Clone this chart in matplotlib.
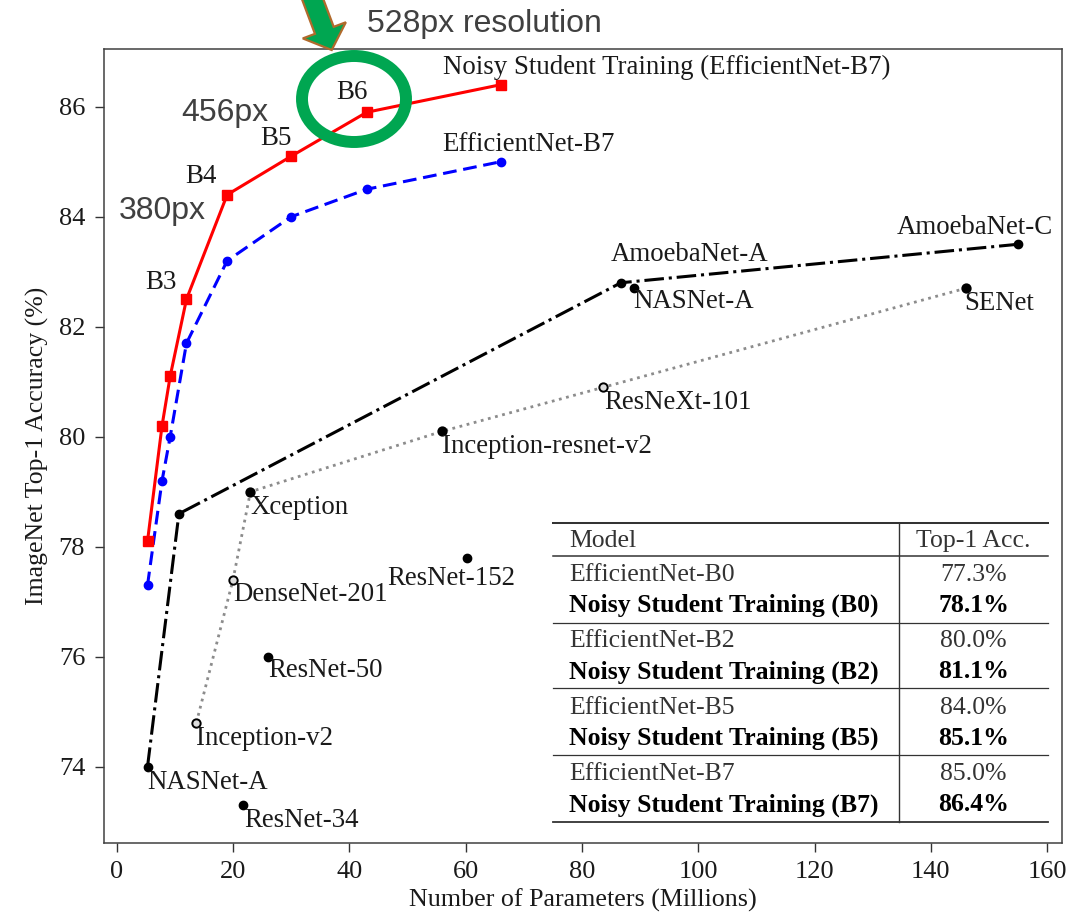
import matplotlib.pyplot as plt
from matplotlib.lines import Line2D
from matplotlib.patches import Ellipse, FancyArrow
from matplotlib.transforms import Affine2D

plt.rcParams['font.family'] = ['Liberation Serif', 'DejaVu Serif']

# EfficientNet B0..B7: parameters (millions) and ImageNet top-1 (%)
effnet_params = [5.3, 7.8, 9.2, 12, 19, 30, 43, 66]
effnet_acc = [77.3, 79.2, 80.0, 81.7, 83.2, 84.0, 84.5, 85.0]
noisy_acc = [78.1, 80.2, 81.1, 82.5, 84.4, 85.1, 85.9, 86.4]

# NAS models (dash-dot)
nas_params = [5.3, 10.7, 86.7, 155]
nas_acc = [74.0, 78.6, 82.8, 83.5]
nas_labels = ['NASNet-A', '', 'AmoebaNet-A', 'AmoebaNet-C']

# hand-designed models (dotted)
hand_params = [13.7, 20.0, 23.0, 56.0, 83.7, 146]
hand_acc = [74.8, 77.4, 79.0, 80.1, 80.9, 82.7]
hand_labels = ['Inception-v2', 'DenseNet-201', 'Xception', 'Inception-resnet-v2',
               'ResNeXt-101', 'SENet']

# single points
other_params = [21.8, 26.0, 60.2, 88.9]
other_acc = [73.3, 76.0, 77.8, 82.7]
other_labels = ['ResNet-34', 'ResNet-50', 'ResNet-152', 'NASNet-A']

# variants listed in the table
table_variants = [0, 2, 5, 7]

# label offsets in pixels (dx, dy to baseline, ha)
nas_off = [(0, -22, 'left'), None, (-10, 22, 'left'), (35, 10, 'right')]
hand_off = [(0, -22, 'left'), (0, -21, 'left'), (0, -22, 'left'), (0, -22, 'left'),
            (1, -22, 'left'), (-1, -22, 'left')]
other_off = [(1, -22, 'left'), (0, -20, 'left'), (48, -27, 'right'), (0, -20, 'left')]
hollow = ['Inception-v2', 'DenseNet-201', 'ResNeXt-101']

W, H = 1083, 917
fig = plt.figure(figsize=(W / 100, H / 100), dpi=100)
ax = fig.add_axes([104 / W, 1 - 842.7 / H, 957.7 / W, 793.7 / H])
# pixel coords from the top-left corner of the figure
px = Affine2D().scale(1 / W, -1 / H).translate(0, 1) + fig.transFigure

ink = '#1a1a1a'
fs = 19.4

ax.plot(hand_params, hand_acc, ':', color='#8c8c8c', lw=2.0, zorder=2)
ax.plot(nas_params, nas_acc, '-.', color='black', lw=2.2, marker='o', ms=6, zorder=3)
ax.plot(other_params, other_acc, 'o', color='black', ms=6, zorder=3)
for x, y, name in zip(hand_params, hand_acc, hand_labels):
    face = '#dddddd' if name in hollow else 'black'
    ax.plot(x, y, 'o', mfc=face, mec='black', mew=1.4, ms=6, zorder=3)
ax.plot(effnet_params, effnet_acc, '--', color='blue', lw=2.2, dashes=(4.5, 2.2),
        marker='o', ms=6, zorder=4)
ax.plot(effnet_params, noisy_acc, '-', color='red', lw=2.2, marker='s', ms=6.5, zorder=5)


def label(x, y, s, dx, dy, ha='left'):
    ax.annotate(s, (x, y), xytext=(dx, dy), textcoords='offset pixels',
                ha=ha, va='baseline', fontsize=fs, color=ink, zorder=6)


for names, xs, ys, offs in [(nas_labels, nas_params, nas_acc, nas_off),
                            (hand_labels, hand_params, hand_acc, hand_off),
                            (other_labels, other_params, other_acc, other_off)]:
    for s, x, y, o in zip(names, xs, ys, offs):
        if s:
            label(x, y, s, o[0], o[1], o[2])

for i, dx, dy in [(3, -10, 10), (4, -11, 12), (5, 0, 11), (6, 1, 13)]:
    label(effnet_params[i], noisy_acc[i], 'B%d' % i, dx, dy, 'right')
label(effnet_params[-1], noisy_acc[-1], 'Noisy Student Training (EfficientNet-B7)', -58, 11)
label(effnet_params[-1], effnet_acc[-1], 'EfficientNet-B7', -58, 11)

ax.set_xlim(-2.18, 162.5)
ax.set_ylim(72.62, 87.05)
ax.set_xticks(range(0, 161, 20))
ax.set_yticks(range(74, 87, 2))
ax.tick_params(direction='out', length=6.5, width=1.0, labelsize=19, pad=7,
               color='#333333', labelcolor=ink)
for sp in ax.spines.values():
    sp.set_linewidth(1.1)
    sp.set_color('#404040')
ax.set_xlabel('Number of Parameters (Millions)', fontsize=18.7, color=ink)
ax.set_ylabel('ImageNet Top-1 Accuracy (%)', fontsize=18.5, color=ink)
ax.xaxis.set_label_coords(0.5, -0.058)
ax.yaxis.set_label_coords(-0.057, 0.5)

# comparison table (booktabs style)
tx0, tx1, tdiv = 552.7, 1048.3, 899
rules = [(523.3, 1.45), (556, 1.1), (622.7, 0.9), (688.3, 0.9), (755, 0.9), (821.7, 1.3)]
for yy, lw in rules:
    fig.add_artist(Line2D([tx0, tx1], [yy, yy], transform=px, color='#333333', lw=lw))
fig.add_artist(Line2D([tdiv, tdiv], [523.3, 821.7], transform=px, color='#333333', lw=1.0))

tfs = 18.5
fig.text(569.3, 546.7, 'Model', transform=px, fontsize=tfs, color='#333333', va='baseline')
fig.text(973.5, 546.7, 'Top-1 Acc.', transform=px, fontsize=tfs, color='#333333',
         va='baseline', ha='center')
for g, v in enumerate(table_variants):
    base = 581 + g * 66.4
    fig.text(569.3, base, 'EfficientNet-B%d' % v, transform=px, fontsize=tfs,
             color='#333333', va='baseline')
    fig.text(973.5, base, '%.1f%%' % effnet_acc[v], transform=px, fontsize=tfs,
             color='#333333', va='baseline', ha='center')
    fig.text(569.3, base + 31, 'Noisy Student Training (B%d)' % v, transform=px,
             fontsize=tfs, color='black', va='baseline', weight='bold')
    fig.text(973.5, base + 31, '%.1f%%' % noisy_acc[v], transform=px, fontsize=tfs,
             color='black', va='baseline', ha='center', weight='bold')

# resolution callouts
green = '#00a651'
note = dict(transform=px, fontsize=23, family='Liberation Sans', color='#404040', va='center')
fig.text(367, 24, '528px resolution', **note)
fig.text(181, 112.5, '456px', **note)
fig.text(119, 211, '380px', **note)
fig.add_artist(Ellipse((354, 99), 104, 86, transform=px, fill=False, ec=green,
                       lw=8.6, zorder=10))
fig.add_artist(FancyArrow(310.7, -6, 21, 56, width=20, head_width=46, head_length=21,
                          length_includes_head=True, transform=px, fc=green,
                          ec='#b06a2c', lw=1.6, zorder=10))

fig.savefig('out.png', dpi=100)
